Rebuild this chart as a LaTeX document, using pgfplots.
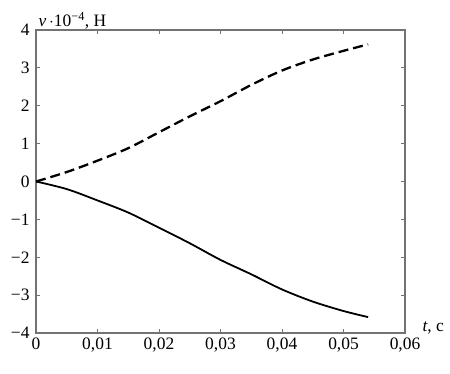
\documentclass[border=0pt]{standalone}
\usepackage{fontspec}
\setmainfont{Liberation Serif}
\usepackage{pgfplots}
\pgfplotsset{compat=1.18}
\usetikzlibrary{calc}
\newcommand{\tl}[1]{\textrm{\fontsize{17.5}{21}\selectfont #1}}
\begin{document}
\begin{tikzpicture}
\begin{axis}[
  scale only axis,
  width=369bp, height=303bp,
  xmin=0, xmax=0.06, ymin=-4, ymax=4,
  xtick={0,0.01,0.02,0.03,0.04,0.05,0.06},
  xticklabels={\tl{0},\tl{0,01},\tl{0,02},\tl{0,03},\tl{0,04},\tl{0,05},\tl{0,06}},
  ytick={-4,-3,-2,-1,0,1,2,3,4},
  yticklabels={\tl{−4},\tl{−3},\tl{−2},\tl{−1},\tl{0},\tl{1},\tl{2},\tl{3},\tl{4}},
  scaled x ticks=false,
  tick align=inside,
  major tick length=4bp,
  axis line style={draw=black!55, line width=1.2bp},
  xtick style={draw=black!55, line width=0.9bp},
  ytick style={draw=black!55, line width=0.9bp},
  xticklabel style={yshift=-1bp},
  yticklabel style={xshift=-3bp},
  every axis x label/.style={at={(rel axis cs:1,0)}, anchor=base west, xshift=14bp, yshift=1bp, font=\fontsize{17.5}{20}\selectfont},
  every axis y label/.style={at={(rel axis cs:0,1)}, anchor=base west, xshift=-1bp, yshift=3bp, font=\fontsize{17.5}{20}\selectfont},
  xlabel={\textit{t}, с},
  ylabel={\textit{v}\,$\cdot$10\textsuperscript{−4}, Н},
]
\addplot[black, smooth, line width=2.3bp, dash pattern=on 10bp off 5bp] coordinates {
(0,0) (0.005,0.25) (0.01,0.55) (0.015,0.88) (0.02,1.3) (0.025,1.72) (0.03,2.12) (0.035,2.55) (0.04,2.93) (0.045,3.22) (0.05,3.45) (0.054,3.62)
};
\addplot[black, smooth, line width=1.8bp] coordinates {
(0,0) (0.005,-0.2) (0.01,-0.5) (0.015,-0.82) (0.02,-1.22) (0.025,-1.63) (0.03,-2.07) (0.035,-2.45) (0.04,-2.85) (0.045,-3.17) (0.05,-3.42) (0.054,-3.58)
};
\end{axis}
\pgfresetboundingbox
\path ($(current axis.south west)+(-36bp,-41bp)$) rectangle ($(current axis.north east)+(45bp,30bp)$);
\end{tikzpicture}
\end{document}
